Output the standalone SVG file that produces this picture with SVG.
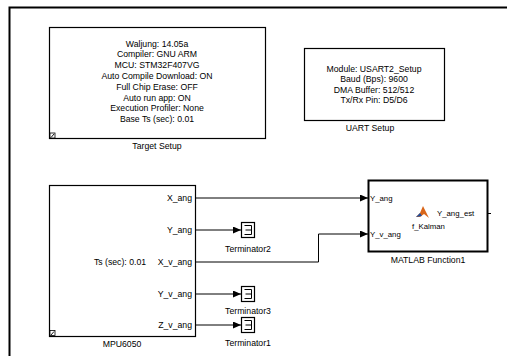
<svg xmlns="http://www.w3.org/2000/svg" width="507" height="356" viewBox="0 0 507 356">
<defs>
<style>
text{font-family:"Liberation Sans",Arial,sans-serif;fill:#000}
.t{font-size:8.7px;text-anchor:middle}
.p{font-size:8.7px;text-anchor:end}
.s{font-size:7.8px}
.blk{fill:#fff;stroke:#000;stroke-width:1.2}
.ln{fill:none;stroke:#000;stroke-width:1}
</style>
<marker id="ar" markerWidth="8" markerHeight="7" refX="8" refY="3.5" orient="auto" markerUnits="userSpaceOnUse">
<path d="M0,0 L8,3.5 L0,7 Z" fill="#000"/>
</marker>
<clipPath id="mclip"><rect x="368" y="180" width="120" height="72"/></clipPath>
</defs>
<rect width="507" height="356" fill="#fff"/>
<path d="M9.5,356 V7.5 H507" fill="none" stroke="#000" stroke-width="2"/>

<g id="target-setup">
<rect class="blk" x="49.5" y="27.5" width="216" height="111"/>
<text class="t" x="157" y="46.5">Waljung: 14.05a</text>
<text class="t" x="157" y="57.3">Compiler: GNU ARM</text>
<text class="t" x="157" y="68.1">MCU: STM32F407VG</text>
<text class="t" x="157" y="78.9">Auto Compile Download: ON</text>
<text class="t" x="157" y="89.7">Full Chip Erase: OFF</text>
<text class="t" x="157" y="100.5">Auto run app: ON</text>
<text class="t" x="157" y="111.3">Execution Profiler: None</text>
<text class="t" x="157" y="122.1">Base Ts (sec): 0.01</text>
<rect x="50" y="133" width="5" height="5" fill="#fff" stroke="#000" stroke-width="0.8"/>
<path d="M51,137.5 L54,134" stroke="#000" stroke-width="0.9"/>
<text class="t" x="157" y="149">Target Setup</text>
</g>

<g id="uart-setup">
<rect class="blk" x="304.5" y="48.5" width="140" height="72"/>
<text class="t" x="374" y="72">Module: USART2_Setup</text>
<text class="t" x="374" y="82.3">Baud (Bps): 9600</text>
<text class="t" x="374" y="92.6">DMA Buffer: 512/512</text>
<text class="t" x="374" y="102.9">Tx/Rx Pin: D5/D6</text>
<text class="t" x="370" y="131">UART Setup</text>
</g>

<g id="mpu6050">
<rect class="blk" x="49.5" y="185.5" width="146" height="151"/>
<text class="p" x="192" y="201">X_ang</text>
<text class="p" x="192" y="233">Y_ang</text>
<text class="p" x="192" y="265">X_v_ang</text>
<text class="p" x="192" y="297">Y_v_ang</text>
<text class="p" x="192" y="328">Z_v_ang</text>
<text class="t" x="120" y="265">Ts (sec): 0.01</text>
<rect x="50" y="330.5" width="5" height="5" fill="#fff" stroke="#000" stroke-width="0.8"/>
<path d="M51,335 L54,331.5" stroke="#000" stroke-width="0.9"/>
<text class="t" x="122" y="347">MPU6050</text>
</g>

<g id="terminator2">
<rect class="blk" x="241.5" y="222.5" width="13" height="15"/>
<path d="M244.5,225.5 H251.5 V234.5 H244.5 M245.5,230 H251.5" class="ln"/>
<text class="t" x="248" y="252">Terminator2</text>
</g>
<g id="terminator3">
<rect class="blk" x="241.5" y="286.5" width="13" height="15"/>
<path d="M244.5,289.5 H251.5 V298.5 H244.5 M245.5,294 H251.5" class="ln"/>
<text class="t" x="248" y="314">Terminator3</text>
</g>
<g id="terminator1">
<rect class="blk" x="241.5" y="317.5" width="13" height="15"/>
<path d="M244.5,320.5 H251.5 V329.5 H244.5 M245.5,325 H251.5" class="ln"/>
<text class="t" x="248" y="346">Terminator1</text>
</g>

<g id="matlab-function1">
<rect x="368.5" y="180.5" width="119" height="71" fill="#fff" stroke="#000" stroke-width="2"/>
<text class="s" x="370" y="201">Y_ang</text>
<text class="s" x="370" y="237">Y_v_ang</text>
<g clip-path="url(#mclip)"><text class="s" x="437" y="216">Y_ang_est</text></g>
<path d="M488,213.5 H491" class="ln"/>
<path d="M416,217 L420,213 L423,206 L426,212 L429,218 L424,214 L420,217 Z" fill="#d9661a"/>
<path d="M416,217 L420,213 L422,216 Z" fill="#1f4f9e"/>
<text class="s" x="412" y="229">f_Kalman</text>
<text class="t" x="428" y="263">MATLAB Function1</text>
</g>

<g id="connectors">
<path d="M196,198 H368" class="ln" marker-end="url(#ar)"/>
<path d="M196,230 H241" class="ln" marker-end="url(#ar)"/>
<path d="M196,262 H318.5 V234 H368" class="ln" marker-end="url(#ar)"/>
<path d="M196,294 H241" class="ln" marker-end="url(#ar)"/>
<path d="M196,325 H241" class="ln" marker-end="url(#ar)"/>
</g>
</svg>
